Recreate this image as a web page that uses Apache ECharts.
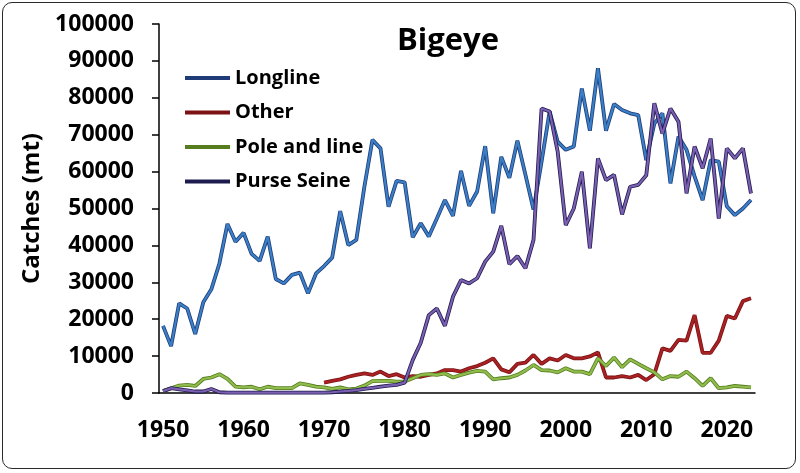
<!DOCTYPE html>
<html lang="en">
<head>
	<meta charset="UTF-8">
	<title>Bigeye</title>
	<script type="text/javascript" src="https://cdn.jsdelivr.net/npm/echarts@6/dist/echarts.min.js"></script>
	<style>
	body{margin:0;background:#fff;}
	#wrap{position:relative;width:800px;height:473px;}
	#main{width:800px;height:473px;}
	#frame{position:absolute;left:2px;top:2px;width:792px;height:465px;border:1.5px solid #2a2a2a;border-radius:10px;pointer-events:none;}
	</style>
</head>
<body>
	<div id="wrap">
		<div id="main"></div>
		<div id="frame"></div>
	</div>
	<script type="text/javascript">
	// 年份 1950-2023
	var years=[];
	for(var y=1950;y<=2023;y++){
		years.push(String(y));
	}
	var yTicks=[0,10000,20000,30000,40000,50000,60000,70000,80000,90000,100000];

	var longline=[18200,12700,24300,22900,16000,24600,28100,35100,45800,41000,
		43400,37700,35800,42400,30900,29700,32000,32600,27000,32400,
		34400,36700,49300,40100,41500,55900,68600,66300,50500,57500,
		57100,42200,46000,42400,47300,52300,48000,60200,50700,54600,
		66900,48700,64000,58300,68400,59100,49700,62700,76300,68100,
		65900,66800,82500,71100,88000,71100,78300,76700,75800,75300,
		63100,73000,75800,56800,69500,65900,58700,52300,63100,62700,
		50600,48200,50000,52300];
	var other=[null,null,null,null,null,null,null,null,null,null,
		null,null,null,null,null,null,null,null,null,null,
		2800,3300,3700,4400,4900,5300,4900,5800,4600,5100,
		4200,4600,4400,4900,5300,6200,6200,5800,6700,7300,
		8200,9400,6400,5600,7900,8200,10300,7900,9400,8800,
		10300,9400,9400,9900,11000,4200,4200,4600,4200,4900,
		3500,5100,12100,11400,14400,14200,21100,10900,10900,14200,
		20900,20200,24900,25700];
	var poleLine=[500,1300,2000,2200,1900,3800,4200,5100,3800,1700,
		1500,1700,1000,1700,1300,1300,1300,2600,2200,1700,
		1500,1100,1500,1000,1200,2000,3200,3300,3300,3100,
		3100,4000,4900,5100,4900,5300,4200,4900,5500,6000,
		5800,3700,4000,4200,4900,6100,7600,6200,6100,5600,
		6700,5800,5800,5100,9400,7300,9600,7000,9100,7900,
		6700,5600,3700,4600,4400,5800,4000,1900,4000,1300,
		1500,1900,1700,1500];
	var purseSeine=[500,1300,1000,700,400,400,1100,200,100,100,
		100,100,100,100,100,100,100,100,100,100,
		100,200,400,600,800,1100,1400,1700,2000,2200,
		2800,8900,13600,21100,22900,18200,26100,30600,29700,31100,
		35600,38300,45300,34900,37100,33800,41500,77100,76300,65400,
		45500,50000,60000,39200,63600,57700,59100,48400,55900,56400,
		59000,78500,70300,77100,73500,54100,66800,60900,69000,47300,
		66300,63600,66300,54100];

	var names=['Longline','Other','Pole and line','Purse Seine'];
	var darkColors=['#1f3c78','#7c1214','#557d1e','#1d1c4e'];
	var lightColors=['#3b7fc6','#a82224','#8fbc4c','#7d5fb2'];
	var dataSets=[longline,other,poleLine,purseSeine];

	var myChart=echarts.init(document.getElementById('main'));
	var font='"Open Sans", "Noto Sans", sans-serif';

	var every10=function(index,value){
		return Number(value)%10===0;
	};

	// 每条线画两次: 深色底线 + 浅色细线, 模仿立体效果
	var series=[];
	for(var i=0;i<names.length;i++){
		series.push({
			name:names[i],
			type:'line',
			symbol:'none',
			itemStyle:{color:darkColors[i]},
			lineStyle:{color:darkColors[i],width:3.8},
			data:dataSets[i]
		});
		series.push({
			name:names[i],
			type:'line',
			symbol:'none',
			itemStyle:{color:darkColors[i]},
			lineStyle:{color:lightColors[i],width:2.2},
			data:dataSets[i]
		});
	}

	option={
		animation:false,
		title:{
			text:'Bigeye',
			left:397,
			top:26,
			padding:0,
			textStyle:{fontFamily:font,fontWeight:'bold',fontSize:31,color:'#000'}
		},
		legend:{
			data:names,
			orient:'vertical',
			left:185,
			top:68,
			padding:0,
			icon:'rect',
			itemWidth:45,
			itemHeight:4,
			itemGap:14.5,
			textStyle:{fontFamily:font,fontWeight:'bold',fontSize:20,lineHeight:20,color:'#000'}
		},
		grid:{
			left:159,
			right:45,
			top:24,
			bottom:80
		},
		xAxis:{
			type:'category',
			boundaryGap:true,
			data:years,
			axisLine:{lineStyle:{color:'#000',width:1.5}},
			axisTick:{interval:every10,length:6,lineStyle:{color:'#000',width:1.5}},
			axisLabel:{
				interval:every10,
				margin:26,
				fontFamily:font,
				fontWeight:'bold',
				fontSize:23,
				color:'#000'
			},
			splitLine:{show:false}
		},
		yAxis:{
			type:'value',
			min:yTicks[0],
			max:yTicks[yTicks.length-1],
			interval:10000,
			name:'Catches (mt)',
			nameLocation:'middle',
			nameGap:113,
			nameTextStyle:{fontFamily:font,fontWeight:'bold',fontSize:24,color:'#000'},
			axisLine:{show:true,lineStyle:{color:'#000',width:1.5}},
			axisTick:{show:true,length:7,lineStyle:{color:'#000',width:1.5}},
			axisLabel:{
				margin:25,
				fontFamily:font,
				fontWeight:'bold',
				fontSize:23,
				color:'#000',
				formatter:function(v){return String(v);}
			},
			splitLine:{show:false}
		},
		series:series
	};
	if (option && typeof option === "object") {
		myChart.setOption(option);
	}
	</script>
</body>
</html>
